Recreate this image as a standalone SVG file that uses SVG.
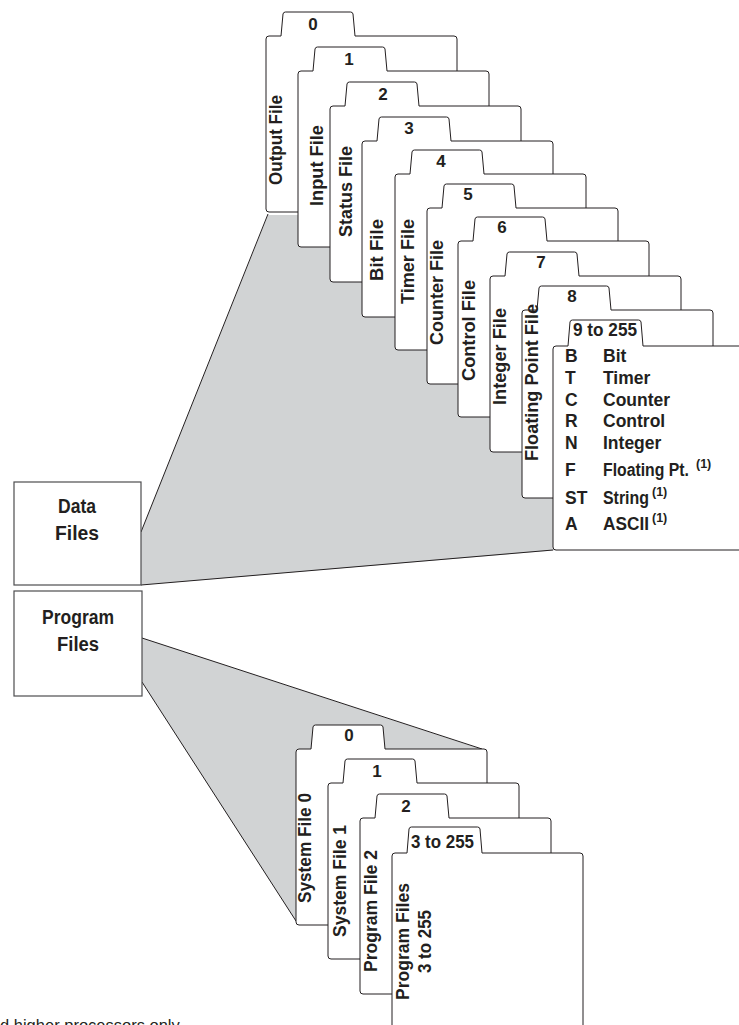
<svg xmlns="http://www.w3.org/2000/svg" xmlns:xlink="http://www.w3.org/1999/xlink" width="739" height="1025" viewBox="0 0 739 1025">
<style>
.card{fill:#fff;stroke:#231f20;stroke-width:1}
.box{fill:#fff;stroke:#4d4d4f;stroke-width:1.2}
.wedge{fill:#d1d3d4;stroke:none}
.edge{fill:none;stroke:#231f20;stroke-width:1}
text{font-family:"Liberation Sans",Arial,sans-serif;font-weight:bold;fill:#231f20}
.v{font-size:19px}
.n{font-size:17px;text-anchor:middle}
.bx{font-size:20px;text-anchor:middle}
.li{font-size:17.5px}
.sup{font-size:12.5px}
.foot{font-weight:normal;font-size:16.5px}
</style>
<defs>
<path id="card" d="M0,173 V3 Q0,0 3,0 H15 L17,-22 Q17.4,-24 19.5,-24 H84.5 Q86.6,-24 87,-22 L89,0 H188 Q191,0 191,3 V173 Q191,176 188,176 H3 Q0,176 0,173 Z"/>
<path id="card8" d="M0,185 V3 Q0,0 3,0 H15 L17,-22 Q17.4,-24 19.5,-24 H84.5 Q86.6,-24 87,-22 L89,0 H188 Q191,0 191,3 V185 Q191,188 188,188 H3 Q0,188 0,185 Z"/>
<path id="cardBig" d="M0,201 V3 Q0,0 3,0 H15 L17,-24 Q17.4,-26 19.5,-26 H85.5 Q87.6,-26 88,-24 L90,0 H200 V204 H3 Q0,204 0,201 Z"/>
<path id="cardTall" d="M0,210 V3 Q0,0 3,0 H15 L17,-24 Q17.4,-26 19.5,-26 H85.5 Q87.6,-26 88,-24 L90,0 H188 Q191,0 191,3 V210"/>
</defs>

<g id="connectors">
<polygon class="wedge" points="141,532 268,215 560,215 560,550 141,585"/>
<line class="edge" x1="141" y1="532" x2="268" y2="214"/>
<line class="edge" x1="141" y1="585" x2="553" y2="550"/>
<polygon class="wedge" points="142,638 481,749 296,749 296,921 142,682"/>
<line class="edge" x1="142" y1="638" x2="482" y2="749"/>
<line class="edge" x1="142" y1="682" x2="296" y2="921"/>
</g>

<g id="data-files">
<rect class="box" x="14" y="482" width="127" height="103"/>
<text class="bx" x="77" y="513" textLength="38" lengthAdjust="spacingAndGlyphs">Data</text>
<text class="bx" x="77" y="540" textLength="44" lengthAdjust="spacingAndGlyphs">Files</text>
</g>

<g id="program-files">
<rect class="box" x="14" y="591" width="128" height="105"/>
<text class="bx" x="78" y="624" textLength="72" lengthAdjust="spacingAndGlyphs">Program</text>
<text class="bx" x="78" y="651" textLength="42" lengthAdjust="spacingAndGlyphs">Files</text>
</g>

<g id="data-file-0">
<use href="#card" x="266" y="36" class="card"/>
<text class="n" x="313" y="30">0</text>
<text class="v" transform="translate(282,185) rotate(-90)" textLength="90" lengthAdjust="spacingAndGlyphs">Output File</text>
</g>
<g id="data-file-1">
<use href="#card" x="298" y="71" class="card"/>
<text class="n" x="349" y="65">1</text>
<text class="v" transform="translate(323,206) rotate(-90)" textLength="81" lengthAdjust="spacingAndGlyphs">Input File</text>
</g>
<g id="data-file-2">
<use href="#card" x="330" y="106" class="card"/>
<text class="n" x="383" y="100">2</text>
<text class="v" transform="translate(352,237) rotate(-90)" textLength="91" lengthAdjust="spacingAndGlyphs">Status File</text>
</g>
<g id="data-file-3">
<use href="#card" x="362" y="141" class="card"/>
<text class="n" x="409" y="134">3</text>
<text class="v" transform="translate(383,281) rotate(-90)" textLength="62" lengthAdjust="spacingAndGlyphs">Bit File</text>
</g>
<g id="data-file-4">
<use href="#card" x="395" y="174" class="card"/>
<text class="n" x="441" y="167">4</text>
<text class="v" transform="translate(414,304) rotate(-90)" textLength="85" lengthAdjust="spacingAndGlyphs">Timer File</text>
</g>
<g id="data-file-5">
<use href="#card" x="427" y="208" class="card"/>
<text class="n" x="468" y="200">5</text>
<text class="v" transform="translate(443,345) rotate(-90)" textLength="105" lengthAdjust="spacingAndGlyphs">Counter File</text>
</g>
<g id="data-file-6">
<use href="#card" x="458" y="241" class="card"/>
<text class="n" x="502" y="233">6</text>
<text class="v" transform="translate(475,381) rotate(-90)" textLength="101" lengthAdjust="spacingAndGlyphs">Control File</text>
</g>
<g id="data-file-7">
<use href="#card" x="490" y="276" class="card"/>
<text class="n" x="541" y="268">7</text>
<text class="v" transform="translate(506,405) rotate(-90)" textLength="97" lengthAdjust="spacingAndGlyphs">Integer File</text>
</g>
<g id="data-file-8">
<use href="#card8" x="522" y="310" class="card"/>
<text class="n" x="572" y="302">8</text>
<text class="v" transform="translate(538,461) rotate(-90)" textLength="157" lengthAdjust="spacingAndGlyphs">Floating Point File</text>
</g>
<g id="data-file-9">
<use href="#cardBig" x="553" y="346" class="card"/>
<text class="n" x="605" y="336" textLength="64" lengthAdjust="spacingAndGlyphs" style="font-size:18px">9 to 255</text>
<text class="li" x="565" y="362">B</text><text class="li" x="603" y="362">Bit</text>
<text class="li" x="565" y="384">T</text><text class="li" x="603" y="384">Timer</text>
<text class="li" x="565" y="406">C</text><text class="li" x="603" y="406">Counter</text>
<text class="li" x="565" y="427">R</text><text class="li" x="603" y="427">Control</text>
<text class="li" x="565" y="449">N</text><text class="li" x="603" y="449">Integer</text>
<text class="li" x="565" y="476">F</text><text class="li" x="603" y="476" textLength="86" lengthAdjust="spacingAndGlyphs">Floating Pt.</text><text class="sup" x="696" y="468">(1)</text>
<text class="li" x="565" y="504">ST</text><text class="li" x="603" y="504" textLength="46" lengthAdjust="spacingAndGlyphs">String</text><text class="sup" x="652" y="496">(1)</text>
<text class="li" x="565" y="530">A</text><text class="li" x="603" y="530" textLength="46" lengthAdjust="spacingAndGlyphs">ASCII</text><text class="sup" x="652" y="522">(1)</text>
</g>

<g id="program-file-0">
<use href="#card" x="296" y="749" class="card"/>
<text class="n" x="349" y="741">0</text>
<text class="v" transform="translate(311,903) rotate(-90)" textLength="110" lengthAdjust="spacingAndGlyphs">System File 0</text>
</g>
<g id="program-file-1">
<use href="#card" x="328" y="783" class="card"/>
<text class="n" x="377" y="777">1</text>
<text class="v" transform="translate(346,937) rotate(-90)" textLength="112" lengthAdjust="spacingAndGlyphs">System File 1</text>
</g>
<g id="program-file-2">
<use href="#card" x="360" y="818" class="card"/>
<text class="n" x="406" y="812">2</text>
<text class="v" transform="translate(377,972) rotate(-90)" textLength="122" lengthAdjust="spacingAndGlyphs">Program File 2</text>
</g>
<g id="program-file-3">
<use href="#cardTall" x="392" y="853" class="card"/>
<text class="n" x="442.5" y="848" textLength="63" lengthAdjust="spacingAndGlyphs" style="font-size:18px">3 to 255</text>
<text class="v" transform="translate(409,941.5) rotate(-90)" text-anchor="middle" textLength="117" lengthAdjust="spacingAndGlyphs">Program Files</text>
<text class="v" transform="translate(431,941.5) rotate(-90)" text-anchor="middle" textLength="63" lengthAdjust="spacingAndGlyphs">3 to 255</text>
</g>

<text class="foot" x="0" y="1031">d higher processors only</text>
</svg>
